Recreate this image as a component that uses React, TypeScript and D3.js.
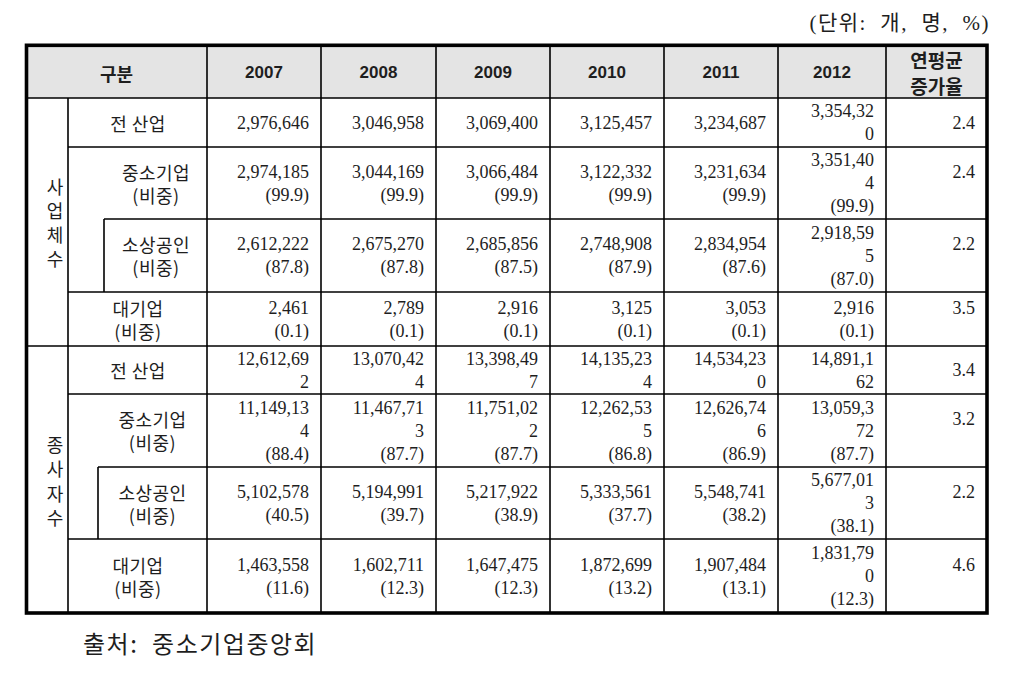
import React from "react";
import * as d3 from "d3";

// ---------- data ----------
const years = ["2007", "2008", "2009", "2010", "2011", "2012"];
const growthHeader = ["연평균", "증가율"];
const groupLabels = ["사업체수", "종사자수"];
const rowLabels = ["전 산업", "중소기업", "소상공인", "대기업"];

const estAll = [2976646, 3046958, 3069400, 3125457, 3234687, 3354320];
const estSme = [2974185, 3044169, 3066484, 3122332, 3231634, 3351404];
const estSmeShare = [99.9, 99.9, 99.9, 99.9, 99.9, 99.9];
const estMicro = [2612222, 2675270, 2685856, 2748908, 2834954, 2918595];
const estMicroShare = [87.8, 87.8, 87.5, 87.9, 87.6, 87.0];
const estLarge = [2461, 2789, 2916, 3125, 3053, 2916];
const estLargeShare = [0.1, 0.1, 0.1, 0.1, 0.1, 0.1];
const estGrowth = [2.4, 2.4, 2.2, 3.5];

const empAll = [12612692, 13070424, 13398497, 14135234, 14534230, 14891162];
const empSme = [11149134, 11467713, 11751022, 12262535, 12626746, 13059372];
const empSmeShare = [88.4, 87.7, 87.7, 86.8, 86.9, 87.7];
const empMicro = [5102578, 5194991, 5217922, 5333561, 5548741, 5677013];
const empMicroShare = [40.5, 39.7, 38.9, 37.7, 38.2, 38.1];
const empLarge = [1463558, 1602711, 1647475, 1872699, 1907484, 1831790];
const empLargeShare = [11.6, 12.3, 12.3, 13.2, 13.1, 12.3];
const empGrowth = [3.4, 3.2, 2.2, 4.6];

const unitText = "(단위:  개,  명,  %)";
const sourceText = "출처:  중소기업중앙회";

// ---------- layout ----------
const X0 = 26, X1 = 987;
const colEdges = [207, 321, 436, 550, 664, 778, 886]; // year columns, then growth
const labelSplit = 68;
const Y0 = 45, headerBottom = 98;
const rowEdges = [98, 147, 219, 292, 346, 394, 467, 539, 613];
const indentX = [104, 98];
const LH = 23;
const serif = "'Liberation Serif', 'Noto Sans CJK KR', serif";
const kr = "'Noto Sans CJK KR', 'Liberation Serif', serif";
const bold = "'Liberation Sans', 'Noto Sans CJK KR', sans-serif";
const ink = "#1e1e1e";

const fmtN = d3.format(",");
const fmtS = d3.format(".1f");

function textWidth(s: string, fs = 18) {
  let w = 0;
  for (const c of s) {
    if (/[0-9]/.test(c)) w += 0.5 * fs;
    else if (c === "," || c === ".") w += 0.25 * fs;
    else if (c === "(" || c === ")") w += 0.333 * fs;
    else w += 0.5 * fs;
  }
  return w;
}

function wrap(s: string, avail: number) {
  const lines: string[] = [];
  let cur = "";
  for (const c of s) {
    if (textWidth(cur + c) > avail && cur.length) {
      lines.push(cur);
      cur = c;
    } else cur += c;
  }
  if (cur) lines.push(cur);
  return lines;
}

type Row = { values: number[]; share: number[] | null; growth: number; label: string };

const sections: { label: string; rows: Row[] }[] = [
  {
    label: groupLabels[0],
    rows: [
      { label: rowLabels[0], values: estAll, share: null, growth: estGrowth[0] },
      { label: rowLabels[1], values: estSme, share: estSmeShare, growth: estGrowth[1] },
      { label: rowLabels[2], values: estMicro, share: estMicroShare, growth: estGrowth[2] },
      { label: rowLabels[3], values: estLarge, share: estLargeShare, growth: estGrowth[3] },
    ],
  },
  {
    label: groupLabels[1],
    rows: [
      { label: rowLabels[0], values: empAll, share: null, growth: empGrowth[0] },
      { label: rowLabels[1], values: empSme, share: empSmeShare, growth: empGrowth[1] },
      { label: rowLabels[2], values: empMicro, share: empMicroShare, growth: empGrowth[2] },
      { label: rowLabels[3], values: empLarge, share: empLargeShare, growth: empGrowth[3] },
    ],
  },
];

const labelCenters = [
  [138, 156, 156, 138],
  [138, 152.5, 152.5, 138],
];

export default function App() {
  const texts: React.ReactNode[] = [];
  let key = 0;
  const block = (lines: string[], x: number, cy: number, anchor: string, font: string, fs = 18, lh = LH, ls = 0) => {
    const n = lines.length;
    lines.forEach((l, i) => {
      if (!l) return;
      texts.push(
        <text key={key++} x={x} y={cy + (i - (n - 1) / 2) * lh} textAnchor={anchor} letterSpacing={ls}
          dominantBaseline="central" fontFamily={font} fontSize={fs} fill={ink}>{l}</text>
      );
    });
  };

  const lines: React.ReactNode[] = [];
  const hl = (x1: number, x2: number, y: number) =>
    lines.push(<line key={key++} x1={x1} x2={x2} y1={y} y2={y} stroke="#000" strokeWidth={1.6} />);
  const vl = (x: number, y1: number, y2: number) =>
    lines.push(<line key={key++} x1={x} x2={x} y1={y1} y2={y2} stroke="#000" strokeWidth={1.6} />);

  // header
  hl(X0, X1, headerBottom);
  colEdges.forEach((x) => vl(x, Y0, rowEdges[8]));
  vl(labelSplit, headerBottom, rowEdges[8]);
  const hy = (Y0 + headerBottom) / 2 + 1;
  texts.push(
    <text key={key++} x={(X0 + colEdges[0]) / 2} y={hy} textAnchor="middle" dominantBaseline="central"
      fontFamily="'Noto Sans CJK KR', sans-serif" fontWeight="bold" fontSize={18} fill={ink}>구분</text>
  );
  years.forEach((y, i) => {
    texts.push(
      <text key={key++} x={(colEdges[i] + (colEdges[i + 1] ?? X1)) / 2} y={hy} textAnchor="middle"
        dominantBaseline="central" fontFamily={bold} fontWeight="bold" fontSize={17} fill={ink}>{y}</text>
    );
  });
  growthHeader.forEach((g, i) => {
    texts.push(
      <text key={key++} x={(colEdges[6] + X1) / 2} y={hy - 13 + i * 26} textAnchor="middle"
        dominantBaseline="central" fontFamily="'Noto Sans CJK KR', sans-serif" fontWeight="bold" fontSize={19} fill={ink}>{g}</text>
    );
  });

  sections.forEach((sec, si) => {
    const top = rowEdges[si * 4], bot = rowEdges[si * 4 + 4];
    if (si === 1) hl(X0, X1, top);
    const chars = Array.from(sec.label);
    block(chars, 55, (top + bot) / 2 + (si === 1 ? 1 : 0), "middle", kr, 18, si === 0 ? 23.7 : 24.5);
    sec.rows.forEach((row, ri) => {
      const r = si * 4 + ri;
      const y0 = rowEdges[r], y1 = rowEdges[r + 1];
      const cy = (y0 + y1) / 2;
      if (ri === 1) hl(labelSplit, X1, y0);
      if (ri === 2) {
        hl(indentX[si], X1, y0);
        vl(indentX[si], y0, y1);
      }
      if (ri === 3) hl(labelSplit, X1, y0);
      block(row.share ? [row.label, "(비중)"] : [row.label], labelCenters[si][ri], cy, "middle", kr, 18, LH, 0.5);
      row.values.forEach((v, ci) => {
        const cw = colEdges[ci + 1] - colEdges[ci];
        const ls = wrap(fmtN(v), cw - 38);
        if (row.share) ls.push(`(${fmtS(row.share[ci])})`);
        block(ls, colEdges[ci + 1] - 12, cy, "end", serif, 18);
      });
      block(row.share ? [fmtS(row.growth), ""] : [fmtS(row.growth)], X1 - 12, cy, "end", serif, 18);
    });
  });

  return (
    <svg width={1025} height={677} style={{ position: "absolute", left: 0, top: 0, background: "#fff" }}>
      <rect x={0} y={0} width={1025} height={677} fill="#fff" />
      <rect x={X0} y={Y0} width={X1 - X0} height={headerBottom - Y0} fill="#e4e4e4" />
      {lines}
      <rect x={X0 + 0.5} y={Y0 + 0.3} width={X1 - X0 - 0.5} height={rowEdges[8] - Y0 - 0.3}
        fill="none" stroke="#000" strokeWidth={3.6} />
      {texts}
      <text x={990} y={23} textAnchor="end" dominantBaseline="central" fontFamily={serif} fontSize={21} fill={ink}
        letterSpacing={1.5} style={{ whiteSpace: "pre" }}>{unitText}</text>
      <text x={83} y={642} dominantBaseline="central" fontFamily={kr} fontSize={24} fill={ink}
        letterSpacing={1.5} style={{ whiteSpace: "pre" }}>{sourceText}</text>
    </svg>
  );
}
